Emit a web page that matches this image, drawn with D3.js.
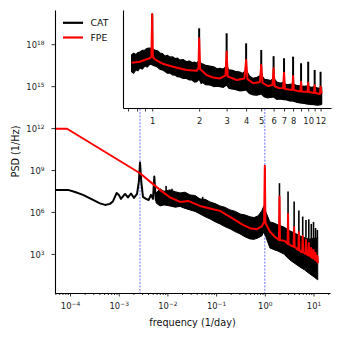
<!DOCTYPE html>
<html>
<head>
<meta charset="utf-8">
<script src="https://cdn.jsdelivr.net/npm/d3@7"></script>
<style>
  html, body { margin: 0; padding: 0; background: #fff; }
  svg { display: block; }
</style>
</head>
<body>
<div id="chart"></div>
<script>
// --- data ---
const seriesNames = ['CAT', 'FPE'];
const markerFreqs = [2.74e-3, 1]; // 1/year and 1/day

// main panel, CAT smooth low-frequency part [freq, psd]
const catLow = [
  [4.92e-5, 3.8e7], [9.1e-5, 3.8e7], [1.27e-4, 2.7e7], [1.85e-4, 1.66e7],
  [2.83e-4, 7.9e6], [4.13e-4, 4.1e6], [5.24e-4, 3.2e6], [6.6e-4, 3.8e6],
  [7.6e-4, 5.7e6], [9.1e-4, 2.3e7], [1.01e-3, 1.66e7], [1.11e-3, 8.6e6],
  [1.35e-3, 1.95e7], [1.55e-3, 1.1e7], [1.79e-3, 2.1e7], [2.06e-3, 1.02e7],
  [2.38e-3, 1.95e7], [2.59e-3, 1.4e8], [2.74e-3, 3.4e9], [2.91e-3, 1.4e8],
  [3.15e-3, 1.2e7], [3.64e-3, 8.6e6], [4.1e-3, 7.2e6], [4.6e-3, 1.66e7],
  [5.06e-3, 8.6e6], [5.38e-3, 3.4e8], [5.78e-3, 7.2e6], [6.41e-3, 1.2e7]
];

// main panel, CAT noisy band [freq, upper, lower]
const catBand = [
  [5.83e-3, 2.3e7, 4.5e6], [7.05e-3, 4.5e7, 2.7e6], [8.5e-3, 3.0e7, 3.2e6],
  [1.13e-2, 3.8e7, 2.7e6], [1.45e-2, 2.8e7, 2.2e6], [1.82e-2, 2.3e7, 2.5e6],
  [2.3e-2, 2.6e7, 1.8e6], [2.91e-2, 1.66e7, 1.4e6], [3.7e-2, 1.5e7, 1.1e6],
  [4.67e-2, 8.6e6, 7.2e5], [6.0e-2, 8.0e6, 4.5e5], [7.5e-2, 5.2e6, 3.2e5],
  [9.5e-2, 4.0e6, 2.0e5], [0.12, 2.7e6, 1.4e5], [0.15, 2.2e6, 9.0e4],
  [0.193, 1.4e6, 6.2e4], [0.25, 1.1e6, 3.8e4], [0.31, 7.2e5, 2.7e4],
  [0.4, 6.0e5, 1.6e4], [0.497, 4.5e5, 1.18e4], [0.6, 4.0e5, 1.1e4],
  [0.725, 5.2e5, 1.4e4], [0.867, 1.2e6, 1.95e4], [0.953, 2.7e6, 3.7e4],
  [1.05, 1.0e6, 1.66e4], [1.27, 1.95e5, 2.7e3], [1.55, 1.6e5, 2.0e3],
  [1.85, 1.2e5, 1.6e3], [2.45, 8.5e4, 1.0e3], [3.26, 4.5e4, 370],
  [4.2, 3.0e4, 200], [5.23, 1.95e4, 117], [6.6, 1.5e4, 70],
  [8.4, 1.18e4, 37], [10.3, 1.3e4, 22], [12.2, 1.4e4, 14]
];

// main panel, CAT spikes [freq, base, peak]
const catSpikes = [
  [9.4e-3, 3e7, 7.2e7], [1.24e-2, 3e7, 4.5e7], [5.3e-2, 7e6, 1.2e7],
  [1, 3e6, 1.4e9], [2, 1e5, 1.15e8], [3, 6e4, 2.9e7], [4, 4e4, 5.5e6],
  [5, 2.5e4, 1.26e6], [6, 2e4, 4.7e5], [7, 1.6e4, 2.7e5], [8, 1.3e4, 3.0e5],
  [9, 1.2e4, 1.4e5], [10, 1.2e4, 1.95e5], [11, 1.2e4, 7.2e4], [12, 1.3e4, 5.2e4]
];

// main panel, FPE [freq, psd]
const fpeMain = [
  [4.92e-5, 9.0e11], [8.7e-5, 9.0e11], [2.74e-3, 5.9e8], [4.4e-3, 1.48e8],
  [7.05e-3, 3.8e7], [1.13e-2, 1.1e7], [1.82e-2, 5.2e6], [2.65e-2, 6.2e6],
  [4.67e-2, 2.7e6], [7.5e-2, 1.8e6], [0.12, 1.2e6], [0.193, 4.4e5],
  [0.356, 1.2e5], [0.497, 6.9e4], [0.69, 5.9e4], [0.867, 9.3e4],
  [0.967, 1.95e5], [1, 2.0e9], [1.03, 1.65e5], [1.27, 4.0e4], [1.6, 1.7e4],
  [1.95, 1.0e4], [2, 1.26e7], [2.05, 1.0e4], [2.57, 8.5e3],
  [2.93, 5.2e3], [3, 7.2e5], [3.07, 5.2e3], [3.58, 3.7e3],
  [3.9, 3.2e3], [4, 8.5e4], [4.1, 3.2e3], [4.54, 2.3e3],
  [4.88, 1.9e3], [5, 3.7e4], [5.12, 1.9e3], [5.49, 1.4e3],
  [5.85, 1.3e3], [6, 1.95e4], [6.15, 1.3e3], [6.47, 1.2e3],
  [6.83, 1.0e3], [7, 1.0e4], [7.17, 1.0e3], [7.5, 850],
  [7.8, 780], [8, 6.1e3], [8.2, 780], [8.5, 720],
  [8.78, 610], [9, 2.7e3], [9.22, 610], [9.5, 520],
  [9.75, 480], [10, 1.9e3], [10.25, 480], [10.5, 440],
  [10.73, 370], [11, 1.2e3], [11.27, 370], [11.5, 350],
  [11.7, 290], [12, 720], [12.3, 250], [12.4, 215]
];

// inset, CAT band [freq, upper, lower]
const insetCatBand = [
  [0.738, 2.1e5, 9.1e3], [0.76, 2.9e5, 7.0e3], [0.786, 2.3e5, 1.26e4],
  [0.81, 3.3e5, 1.1e4], [0.834, 3.7e5, 1.85e4], [0.865, 5.0e5, 1.5e4],
  [0.898, 5.4e5, 2.7e4], [0.93, 7.5e5, 2.2e4], [0.967, 7.9e5, 3.9e4],
  [1.04, 5.4e5, 2.7e4], [1.08, 4.6e5, 2.2e4], [1.12, 3.1e5, 1.5e4],
  [1.16, 2.8e5, 1.3e4], [1.21, 1.7e5, 9.5e3], [1.25, 2.0e5, 7.0e3],
  [1.3, 1.45e5, 7.2e3], [1.35, 1.5e5, 5.0e3], [1.4, 1.1e5, 4.9e3],
  [1.45, 1.2e5, 3.6e3], [1.5, 8.3e4, 3.4e3], [1.58, 9.0e4, 2.6e3],
  [1.66, 6.0e4, 2.6e3], [1.73, 7.0e4, 2.0e3], [1.8, 5.2e4, 1.95e3],
  [1.87, 5.5e4, 1.3e3], [1.93, 4.5e4, 1.4e3], [2.0, 8.3e4, 2.3e3],
  [2.06, 4.2e4, 1.0e3], [2.11, 3.9e4, 1.2e3], [2.2, 3.0e4, 800],
  [2.34, 2.7e4, 760], [2.5, 2.2e4, 560], [2.6, 1.6e4, 620],
  [2.72, 1.7e4, 550], [2.85, 1.5e4, 480], [3.0, 2.7e4, 760],
  [3.1, 1.3e4, 420], [3.24, 1.26e4, 355], [3.4, 1.0e4, 330],
  [3.65, 8.7e3, 245], [3.8, 6.5e3, 260], [4.0, 1.26e4, 295],
  [4.2, 4.0e3, 150], [4.44, 2.6e3, 115], [4.7, 3.2e3, 110],
  [5.0, 4.9e3, 138], [5.25, 2.2e3, 80], [5.52, 1.95e3, 66],
  [5.75, 1.7e3, 75], [6.0, 2.8e3, 79], [6.3, 1.3e3, 50],
  [6.58, 1.1e3, 54], [7.0, 1.2e3, 48], [7.27, 760, 45],
  [7.6, 850, 38], [7.98, 910, 37], [8.4, 700, 30],
  [8.85, 630, 26], [9.4, 580, 24], [9.95, 630, 21],
  [10.4, 480, 20], [10.9, 520, 19], [11.4, 440, 17],
  [11.9, 410, 18], [12.2, 430, 21]
];

// inset, CAT spikes [freq, base, peak]
const insetCatSpikes = [
  [1, 5e5, 4.7e8], [2, 5e4, 3.2e7], [3, 2e4, 1.26e7], [4, 1e4, 1.9e6],
  [5, 4e3, 5.4e5], [6, 2.5e3, 1.7e5], [7, 1.5e3, 1.15e5], [8, 1e3, 1.55e5],
  [9, 700, 4.5e4], [10, 650, 6.0e4], [11, 550, 1.26e4], [12, 450, 9.1e3]
];

// inset, FPE [freq, psd]
const insetFpe = [
  [0.738, 5.0e4], [0.834, 6.0e4], [0.911, 9.1e4], [0.967, 1.15e5],
  [0.988, 1.6e5], [1, 4.7e8], [1.01, 1.45e5], [1.04, 9.5e4],
  [1.18, 3.9e4], [1.36, 2.3e4], [1.66, 1.26e4], [1.93, 1.1e4],
  [1.98, 1.85e4], [2, 4.9e6], [2.03, 1.5e4], [2.23, 4.9e3],
  [2.45, 3.1e3], [2.72, 2.6e3], [2.95, 4.5e3], [3, 4.0e5],
  [3.05, 3.7e3], [3.48, 1.95e3], [3.9, 2.6e3], [4, 8.3e4],
  [4.08, 2.3e3], [4.44, 1.05e3], [4.9, 1.3e3], [5, 3.2e4],
  [5.1, 1.1e3], [5.5, 630], [5.9, 760], [6, 1.75e4],
  [6.1, 580], [6.5, 430], [6.9, 410], [7, 7.6e3],
  [7.1, 355], [7.5, 320], [7.9, 295], [8, 4.1e3],
  [8.1, 295], [8.6, 245], [8.9, 225], [9, 1.4e3],
  [9.1, 225], [9.9, 205], [10, 1.17e3], [10.1, 205],
  [10.9, 166], [11, 760], [11.1, 166], [11.9, 138],
  [12, 550], [12.2, 158]
];

const yTickExps = [3, 6, 9, 12, 15, 18];
const xTickExps = [-4, -3, -2, -1, 0, 1];
const insetTicks = [0.7, 0.8, 0.9, 1, 2, 3, 4, 5, 6, 7, 8, 9, 10, 11, 12];
const insetTickLabels = [1, 2, 3, 4, 5, 6, 7, 8, 10, 12];

// --- layout ---
const W = 341, H = 341;
const FONT = '"DejaVu Sans", sans-serif';
const colors = { CAT: '#000000', FPE: '#ff0000' };
const plot = { left: 55, right: 330, top: 10, bottom: 293 };
const ins = { left: 123, right: 331, top: 10, bottom: 108 };

const svg = d3.select('#chart').append('svg')
  .attr('width', W).attr('height', H)
  .attr('font-family', FONT);

const x = d3.scaleLog().domain([4.92e-5, 21.8]).range([plot.left, plot.right]);
const y = d3.scaleLog().domain([1.6, 2.8e20]).range([plot.bottom, plot.top]);
const xi = d3.scaleLog().domain([0.65, 14]).range([ins.left, ins.right]);
const yi = d3.scaleLog().domain([1e1, 1e9]).range([ins.bottom, ins.top]);

const isDecade = (v) => Math.abs(Math.log10(v) - Math.round(Math.log10(v))) < 1e-9;
const supText = (e) => (e < 0 ? '\u2212' + (-e) : String(e));

function powLabel(textSel, exp) {
  textSel.append('tspan').text('10');
  textSel.append('tspan').attr('dy', -3.1).attr('font-size', 5.9).text(supText(exp));
}

const defs = svg.append('defs');
defs.append('clipPath').attr('id', 'clipMain').append('rect')
  .attr('x', plot.left).attr('y', plot.top)
  .attr('width', plot.right - plot.left).attr('height', plot.bottom - plot.top);
defs.append('clipPath').attr('id', 'clipInset').append('rect')
  .attr('x', ins.left).attr('y', ins.top)
  .attr('width', ins.right - ins.left).attr('height', ins.bottom - ins.top);

// --- main panel ---
const mainG = svg.append('g').attr('clip-path', 'url(#clipMain)');

mainG.selectAll('line.marker').data(markerFreqs).enter().append('line')
  .attr('class', 'marker')
  .attr('x1', (d) => x(d)).attr('x2', (d) => x(d))
  .attr('y1', plot.top).attr('y2', plot.bottom)
  .attr('stroke', '#4a4aff').attr('stroke-width', 0.8)
  .attr('stroke-dasharray', '2,1.4');

const line = (sx, sy) => d3.line().x((d) => sx(d[0])).y((d) => sy(d[1]));
const band = (sx, sy) => d3.area().x((d) => sx(d[0])).y0((d) => sy(d[2])).y1((d) => sy(d[1]));

mainG.append('path').datum(catLow)
  .attr('d', line(x, y)).attr('fill', 'none')
  .attr('stroke', colors.CAT).attr('stroke-width', 2).attr('stroke-linejoin', 'round');

mainG.append('path').datum(catBand)
  .attr('d', band(x, y)).attr('fill', colors.CAT)
  .attr('stroke', colors.CAT).attr('stroke-width', 1);

mainG.selectAll('line.spike').data(catSpikes).enter().append('line')
  .attr('class', 'spike')
  .attr('x1', (d) => x(d[0])).attr('x2', (d) => x(d[0]))
  .attr('y1', (d) => y(d[1])).attr('y2', (d) => y(d[2]))
  .attr('stroke', colors.CAT).attr('stroke-width', 1.6);

mainG.append('path').datum(fpeMain)
  .attr('d', line(x, y)).attr('fill', 'none')
  .attr('stroke', colors.FPE).attr('stroke-width', 2).attr('stroke-linejoin', 'round');

// main axes
const xAxis = svg.append('g')
  .attr('transform', `translate(0,${plot.bottom})`)
  .call(d3.axisBottom(x).tickValues(x.ticks()).tickFormat('').tickSizeOuter(0));
xAxis.selectAll('.tick line').attr('y2', (d) => (isDecade(d) ? 3.5 : 2));
xAxis.selectAll('.tick text').remove();
xAxis.selectAll('.tick').filter((d) => isDecade(d) && xTickExps.includes(Math.round(Math.log10(d))))
  .append('text')
  .attr('y', 15.6).attr('text-anchor', 'middle').attr('fill', '#222')
  .attr('font-size', 8.4).attr('font-family', FONT)
  .each(function (d) { powLabel(d3.select(this), Math.round(Math.log10(d))); });

const yAxis = svg.append('g')
  .attr('transform', `translate(${plot.left},0)`)
  .call(d3.axisLeft(y).tickValues(yTickExps.map((e) => 10 ** e)).tickFormat('').tickSize(3.5).tickSizeOuter(0));
yAxis.selectAll('.tick text').remove();
yAxis.selectAll('.tick').append('text')
  .attr('x', -10.5).attr('y', 3.3).attr('text-anchor', 'end').attr('fill', '#222')
  .attr('font-size', 8.4).attr('font-family', FONT)
  .each(function (d) { powLabel(d3.select(this), Math.round(Math.log10(d))); });

[xAxis, yAxis].forEach((g) => {
  g.select('.domain').attr('stroke', '#000').attr('stroke-width', 1.1);
  g.selectAll('.tick line').attr('stroke', '#000').attr('stroke-width', 0.8);
});

svg.append('text')
  .attr('x', (plot.left + plot.right) / 2).attr('y', 326)
  .attr('text-anchor', 'middle').attr('font-size', 9.7).attr('fill', '#111')
  .text('frequency (1/day)');

svg.append('text')
  .attr('transform', `translate(18.8,${(plot.top + plot.bottom) / 2}) rotate(-90)`)
  .attr('text-anchor', 'middle').attr('font-size', 9.7).attr('fill', '#111')
  .text('PSD (1/Hz)');

// legend
const legend = svg.append('g');
seriesNames.forEach((name, i) => {
  const ly = 22.8 + i * 14.7;
  legend.append('line')
    .attr('x1', 63).attr('x2', 83).attr('y1', ly).attr('y2', ly)
    .attr('stroke', colors[name]).attr('stroke-width', 2.2);
  legend.append('text')
    .attr('x', 90.5).attr('y', ly + 3.4)
    .attr('font-size', 9.3).attr('fill', '#111')
    .text(name);
});

// --- inset ---
svg.append('rect')
  .attr('x', ins.left).attr('y', ins.top)
  .attr('width', ins.right - ins.left).attr('height', ins.bottom - ins.top)
  .attr('fill', '#fff');

const insG = svg.append('g').attr('clip-path', 'url(#clipInset)');

insG.append('path').datum(insetCatBand)
  .attr('d', band(xi, yi)).attr('fill', colors.CAT)
  .attr('stroke', colors.CAT).attr('stroke-width', 1.2);

insG.selectAll('line.spike').data(insetCatSpikes).enter().append('line')
  .attr('class', 'spike')
  .attr('x1', (d) => xi(d[0])).attr('x2', (d) => xi(d[0]))
  .attr('y1', (d) => yi(d[1])).attr('y2', (d) => yi(d[2]))
  .attr('stroke', colors.CAT).attr('stroke-width', 2);

insG.append('path').datum(insetFpe)
  .attr('d', line(xi, yi)).attr('fill', 'none')
  .attr('stroke', colors.FPE).attr('stroke-width', 2).attr('stroke-linejoin', 'round');

const xiAxis = svg.append('g')
  .attr('transform', `translate(0,${ins.bottom})`)
  .call(d3.axisBottom(xi).tickValues(insetTicks).tickFormat('').tickSize(3.5).tickSizeOuter(0));
xiAxis.selectAll('.tick text').remove();
xiAxis.selectAll('.tick').filter((d) => insetTickLabels.includes(d))
  .append('text')
  .attr('y', 15.8).attr('text-anchor', 'middle').attr('fill', '#222')
  .attr('font-size', 8.4).attr('font-family', FONT)
  .text((d) => d);

const yiAxis = svg.append('g')
  .attr('transform', `translate(${ins.left},0)`)
  .call(d3.axisLeft(yi).tickValues([]).tickSizeOuter(0));

[xiAxis, yiAxis].forEach((g) => {
  g.select('.domain').attr('stroke', '#000').attr('stroke-width', 1.1);
  g.selectAll('.tick line').attr('stroke', '#000').attr('stroke-width', 0.8);
});
</script>
